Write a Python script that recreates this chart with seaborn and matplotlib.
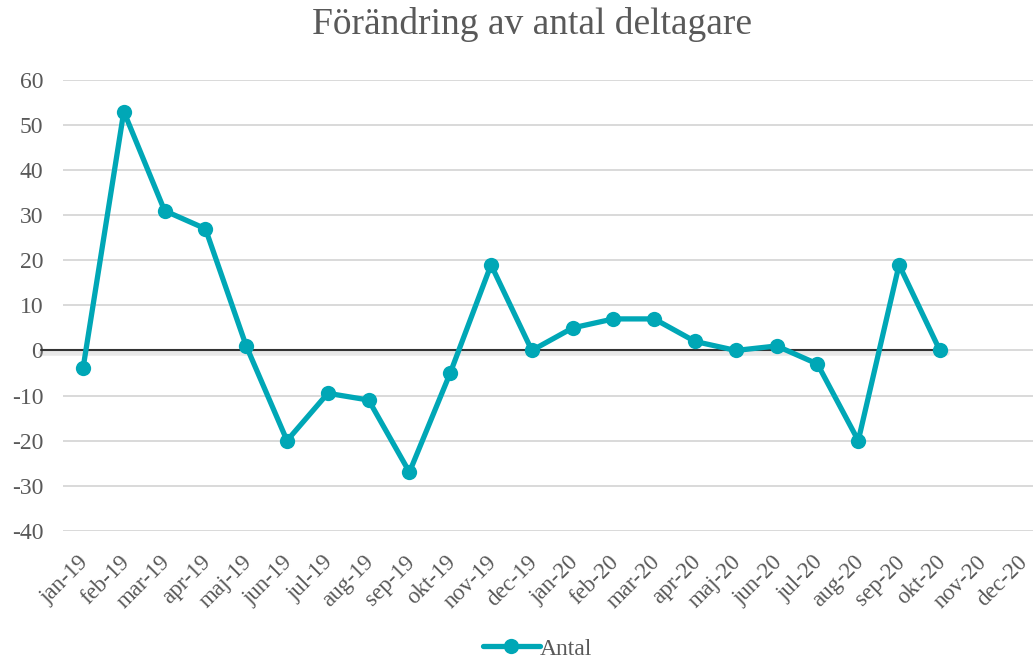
# Förändring av antal deltagare - line chart

import numpy as np
import pandas as pd
import matplotlib
matplotlib.use("Agg")
import matplotlib.pyplot as plt
import matplotlib.patheffects as pe
import matplotlib.transforms as mtransforms
import seaborn as sns


# Data
months = [
    "jan-19", "feb-19", "mar-19", "apr-19", "maj-19", "jun-19",
    "jul-19", "aug-19", "sep-19", "okt-19", "nov-19", "dec-19",
    "jan-20", "feb-20", "mar-20", "apr-20", "maj-20", "jun-20",
    "jul-20", "aug-20", "sep-20", "okt-20", "nov-20", "dec-20",
]

antal = [
    -4, 53, 31, 27, 1, -20,
    -9.5, -11, -27, -5, 19, 0,
    5, 7, 7, 2, 0, 1,
    -3, -20, 19, 0, np.nan, np.nan,
]

yticks = [-40, -30, -20, -10, 0, 10, 20, 30, 40, 50, 60]

df = pd.DataFrame({"pos": range(len(months)), "Antal": antal})
df = df.dropna()

# Style
sns.set_style("white")
plt.rcParams["font.family"] = ["Liberation Serif", "DejaVu Serif"]

text_col = "#595959"
line_col = "#00A7B6"

fig = plt.figure(figsize=(10.33, 6.61), dpi=100)
ax = fig.add_axes([0.0606, 0.197, 0.948, 0.682])

sns.lineplot(
    data=df, x="pos", y="Antal", ax=ax,
    color=line_col, linewidth=3.8,
    marker="o", markersize=11, markeredgewidth=0,
    label="Antal", zorder=3,
)

# zero line (dark line with soft shadow, as in the original)
zl = ax.axhline(0, xmin=-0.022, xmax=0.903, color="#333333", linewidth=1.5,
                zorder=2, clip_on=False)
zl.set_path_effects([
    pe.SimpleLineShadow(offset=(0, -2), shadow_color="#999999", alpha=0.22,
                        linewidth=4),
    pe.Normal(),
])

ax.set_xlim(-0.5, len(months) - 0.5)
ax.set_ylim(-40, 60)
ax.set_yticks(yticks)
ax.set_yticklabels([str(v) for v in yticks])
ax.set_xticks(range(len(months)))
ax.set_xticklabels(months, rotation=45, ha="right", rotation_mode="anchor")

ax.grid(axis="y", color="#D9D9D9", linewidth=1.4, zorder=0)
ax.set_axisbelow(True)
for s in ax.spines.values():
    s.set_visible(False)

ax.tick_params(axis="both", length=0, colors=text_col)
ax.tick_params(axis="y", pad=14, labelsize=17)
ax.tick_params(axis="x", pad=15, labelsize=16.5)
ax.set_xlabel("")
ax.set_ylabel("")

# nudge x labels slightly left
shift = mtransforms.ScaledTranslation(-5 / 100, 0, fig.dpi_scale_trans)
for lbl in ax.get_xticklabels():
    lbl.set_transform(lbl.get_transform() + shift)

fig.suptitle("Förändring av antal deltagare", x=0.515, y=0.99,
             fontsize=27, color=text_col)

leg = ax.legend(
    loc="lower center", bbox_to_anchor=(0.485, -0.333),
    frameon=False, fontsize=17, handlelength=2.4, handletextpad=0.0,
)
for t in leg.get_texts():
    t.set_color(text_col)

fig.savefig("out.png", dpi=100)
